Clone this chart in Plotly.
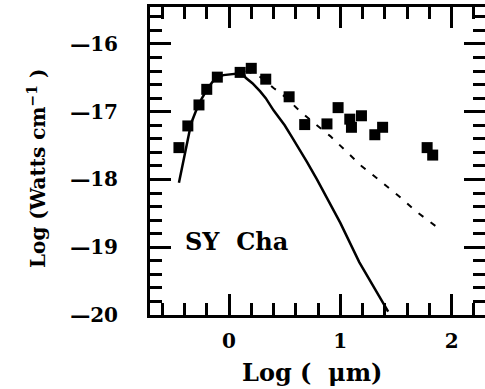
import plotly.graph_objects as go

# Observed photometry (log wavelength [um], log flux)
obs_logwl = [-0.45, -0.37, -0.27, -0.20, -0.105, 0.10, 0.20, 0.33, 0.54, 0.68,
             0.88, 0.98, 1.085, 1.19, 1.10, 1.31, 1.38, 1.78, 1.83]
obs_logf = [-17.53, -17.21, -16.90, -16.67, -16.49, -16.42, -16.36, -16.52, -16.78, -17.19,
            -17.18, -16.94, -17.11, -17.06, -17.23, -17.34, -17.23, -17.53, -17.64]

# Photosphere model (solid)
phot_logwl = [-0.45, -0.42, -0.39, -0.34, -0.30, -0.25, -0.19, -0.12, -0.05, 0.06, 0.12,
              0.15, 0.21, 0.28, 0.33, 0.40, 0.50, 0.56, 0.62, 0.70, 0.79, 1.00, 1.17, 1.30, 1.43]
phot_logf = [-18.05, -17.80, -17.53, -17.17, -17.00, -16.82, -16.65, -16.50, -16.46, -16.44, -16.43,
             -16.50, -16.58, -16.70, -16.80, -16.98, -17.20, -17.36, -17.52, -17.74, -18.00,
             -18.64, -19.22, -19.58, -19.95]

# Disk model (dashed)
disk_logwl = [0.15, 0.25, 0.33, 0.40, 0.46, 0.53, 0.61, 0.75, 0.91, 1.06, 1.19, 1.38, 1.53, 1.68, 1.89]
disk_logf = [-16.40, -16.45, -16.55, -16.65, -16.72, -16.82, -16.95, -17.15, -17.36, -17.60,
             -17.80, -18.05, -18.25, -18.47, -18.73]

y_tickvals = [-16, -17, -18, -19, -20]
y_ticktext = ["\u201416", "\u201417", "\u201418", "\u201419", "\u201420"]
x_tickvals = [0, 1, 2]
x_ticktext = ["0", "1", "2"]

FONT = "DejaVu Serif"

fig = go.Figure()
fig.add_trace(go.Scatter(x=phot_logwl, y=phot_logf, mode="lines",
                         line=dict(color="black", width=2.5), showlegend=False))
fig.add_trace(go.Scatter(x=disk_logwl, y=disk_logf, mode="lines",
                         line=dict(color="black", width=2, dash="6px,9px"), showlegend=False))
fig.add_trace(go.Scatter(x=obs_logwl, y=obs_logf, mode="markers",
                         marker=dict(symbol="square", size=11, color="black"), showlegend=False))

axis_common = dict(
    showline=True, linewidth=3, linecolor="black", mirror="allticks",
    ticks="inside", ticklen=21, tickwidth=2.5, automargin=False,
    tickcolor="black", showgrid=False, zeroline=False,
    minor=dict(ticks="inside", ticklen=12, tickwidth=2.5, tickcolor="black", dtick=0.2, showgrid=False),
    tickfont=dict(family=FONT, size=20, color="black", weight="bold"),
)

fig.update_xaxes(range=[-0.71, 2.30], tickvals=x_tickvals, ticktext=x_ticktext,
                 ticklabelstandoff=6, **axis_common)
fig.update_yaxes(range=[-20, -15.455], tickvals=y_tickvals, ticktext=y_ticktext,
                 ticklabelstandoff=25, **axis_common)

fig.add_annotation(x=-0.41, y=-18.91, xref="x", yref="y", text="SY\u00a0\u00a0Cha", showarrow=False,
                   xanchor="left", yanchor="middle",
                   font=dict(family=FONT, size=24, color="black", weight="bold"))
fig.add_annotation(x=0.5, y=0, xref="paper", yref="paper", text="Log\u00a0(\u00a0\u00a0\u03bcm)",
                   showarrow=False,
                   xanchor="center", yanchor="middle", xshift=-6, yshift=-57,
                   font=dict(family=FONT, size=24, color="black", weight="bold"))
fig.add_annotation(x=0, y=0.5, xref="paper", yref="paper",
                   text="Log (Watts cm<sup>\u22121</sup> )", showarrow=False, textangle=-90,
                   xanchor="center", yanchor="middle", xshift=-113, yshift=-8,
                   font=dict(family=FONT, size=20, color="black", weight="bold"))

fig.update_layout(width=485, height=389, margin=dict(l=150, r=0, t=7, b=74, autoexpand=False),
                  paper_bgcolor="white", plot_bgcolor="white")

fig.write_html("out.html")
